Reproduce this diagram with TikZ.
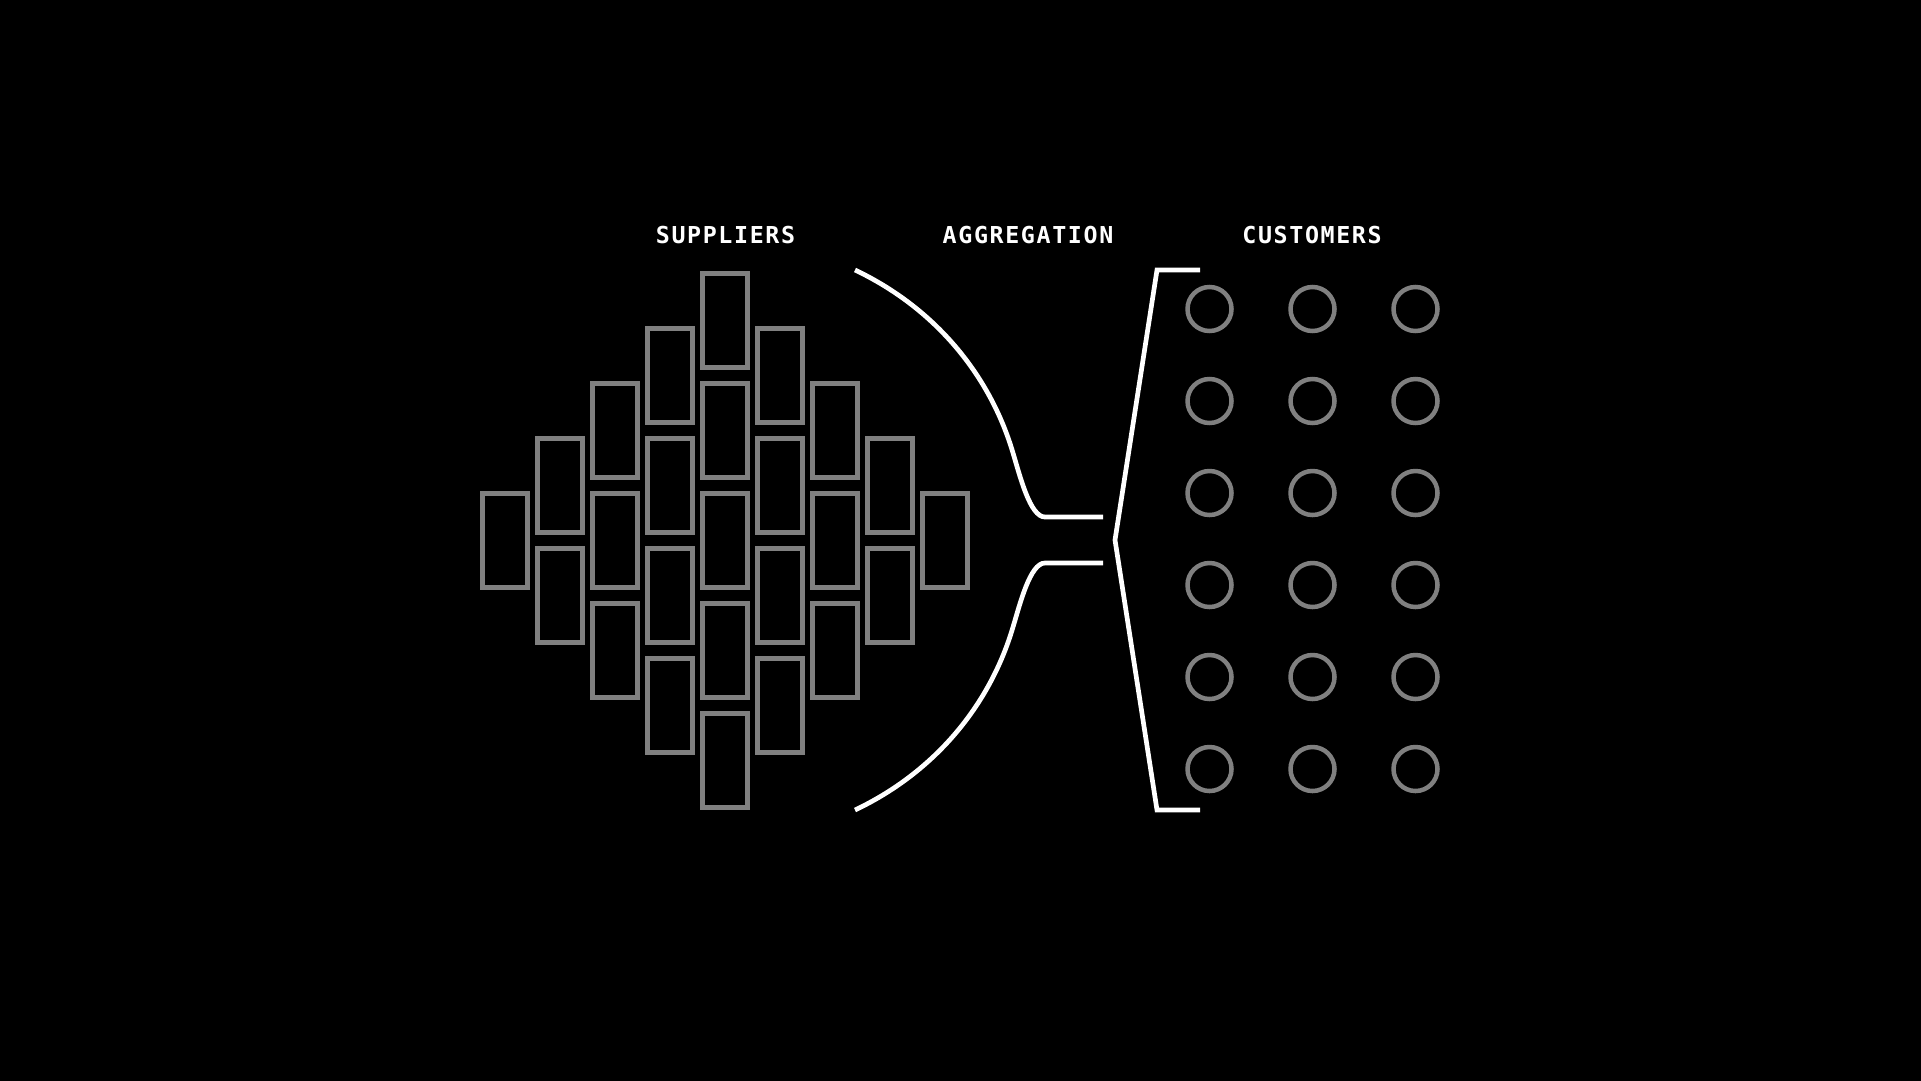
\documentclass[tikz,border=0pt]{standalone}
\usepackage{fontspec}
\usepackage{tikz}
\usetikzlibrary{positioning}
\newfontfamily\labelfont[LetterSpace=7]{DejaVu Sans Mono}
\definecolor{boxgray}{RGB}{128,128,128}

\begin{document}
\begin{tikzpicture}[x=1pt, y=-1pt,
    supplier/.style={draw=boxgray, line width=5pt, minimum width=45pt, minimum height=94pt, inner sep=0pt},
    customer/.style={circle, draw=boxgray, line width=4.5pt, minimum size=44pt, inner sep=0pt},
    wire/.style={draw=white, line width=4.7pt},
    heading/.style={text=white, font=\labelfont\bfseries\fontsize{23.3}{26}\selectfont, anchor=base, inner sep=0pt}]
    % page and background
    \useasboundingbox (0,0) rectangle (1921,1080);
    \fill[black] (-6,-6) rectangle (1927,1086);
    % column headings
    \node[heading] (suppliers) at (725.5,243) {SUPPLIERS};
    \node[heading] (aggregation) at (1028,243) {AGGREGATION};
    \node[heading] (customers) at (1312,243) {CUSTOMERS};
    % supplier boxes, stacked in a diamond
    \foreach \k in {0,...,8} {
        \pgfmathtruncatemacro\n{5-abs(\k-4)}
        \foreach \j in {1,...,\n}
            \node[supplier] (s-\k-\j) at ({505+55*\k},{540+110*(\j-(\n+1)/2)}) {};
    }
    % aggregation funnel
    \draw[wire] (855,270) .. controls (935,308) and (990,375) .. (1013,453)
        .. controls (1020,476) and (1030,517) .. (1045,517) -- (1103,517);
    \draw[wire] (855,810) .. controls (935,772) and (990,705) .. (1013,627)
        .. controls (1020,604) and (1030,563) .. (1045,563) -- (1103,563);
    % bracket round the customers
    \draw[wire] (1200,270) -- (1157,270) -- (1115,540) -- (1157,810) -- (1200,810);
    % customer grid
    \foreach \r in {0,...,5}
        \foreach \c in {0,1,2}
            \node[customer] (c-\r-\c) at ({1209.5+103*\c},{309+92*\r}) {};
\end{tikzpicture}
\end{document}
